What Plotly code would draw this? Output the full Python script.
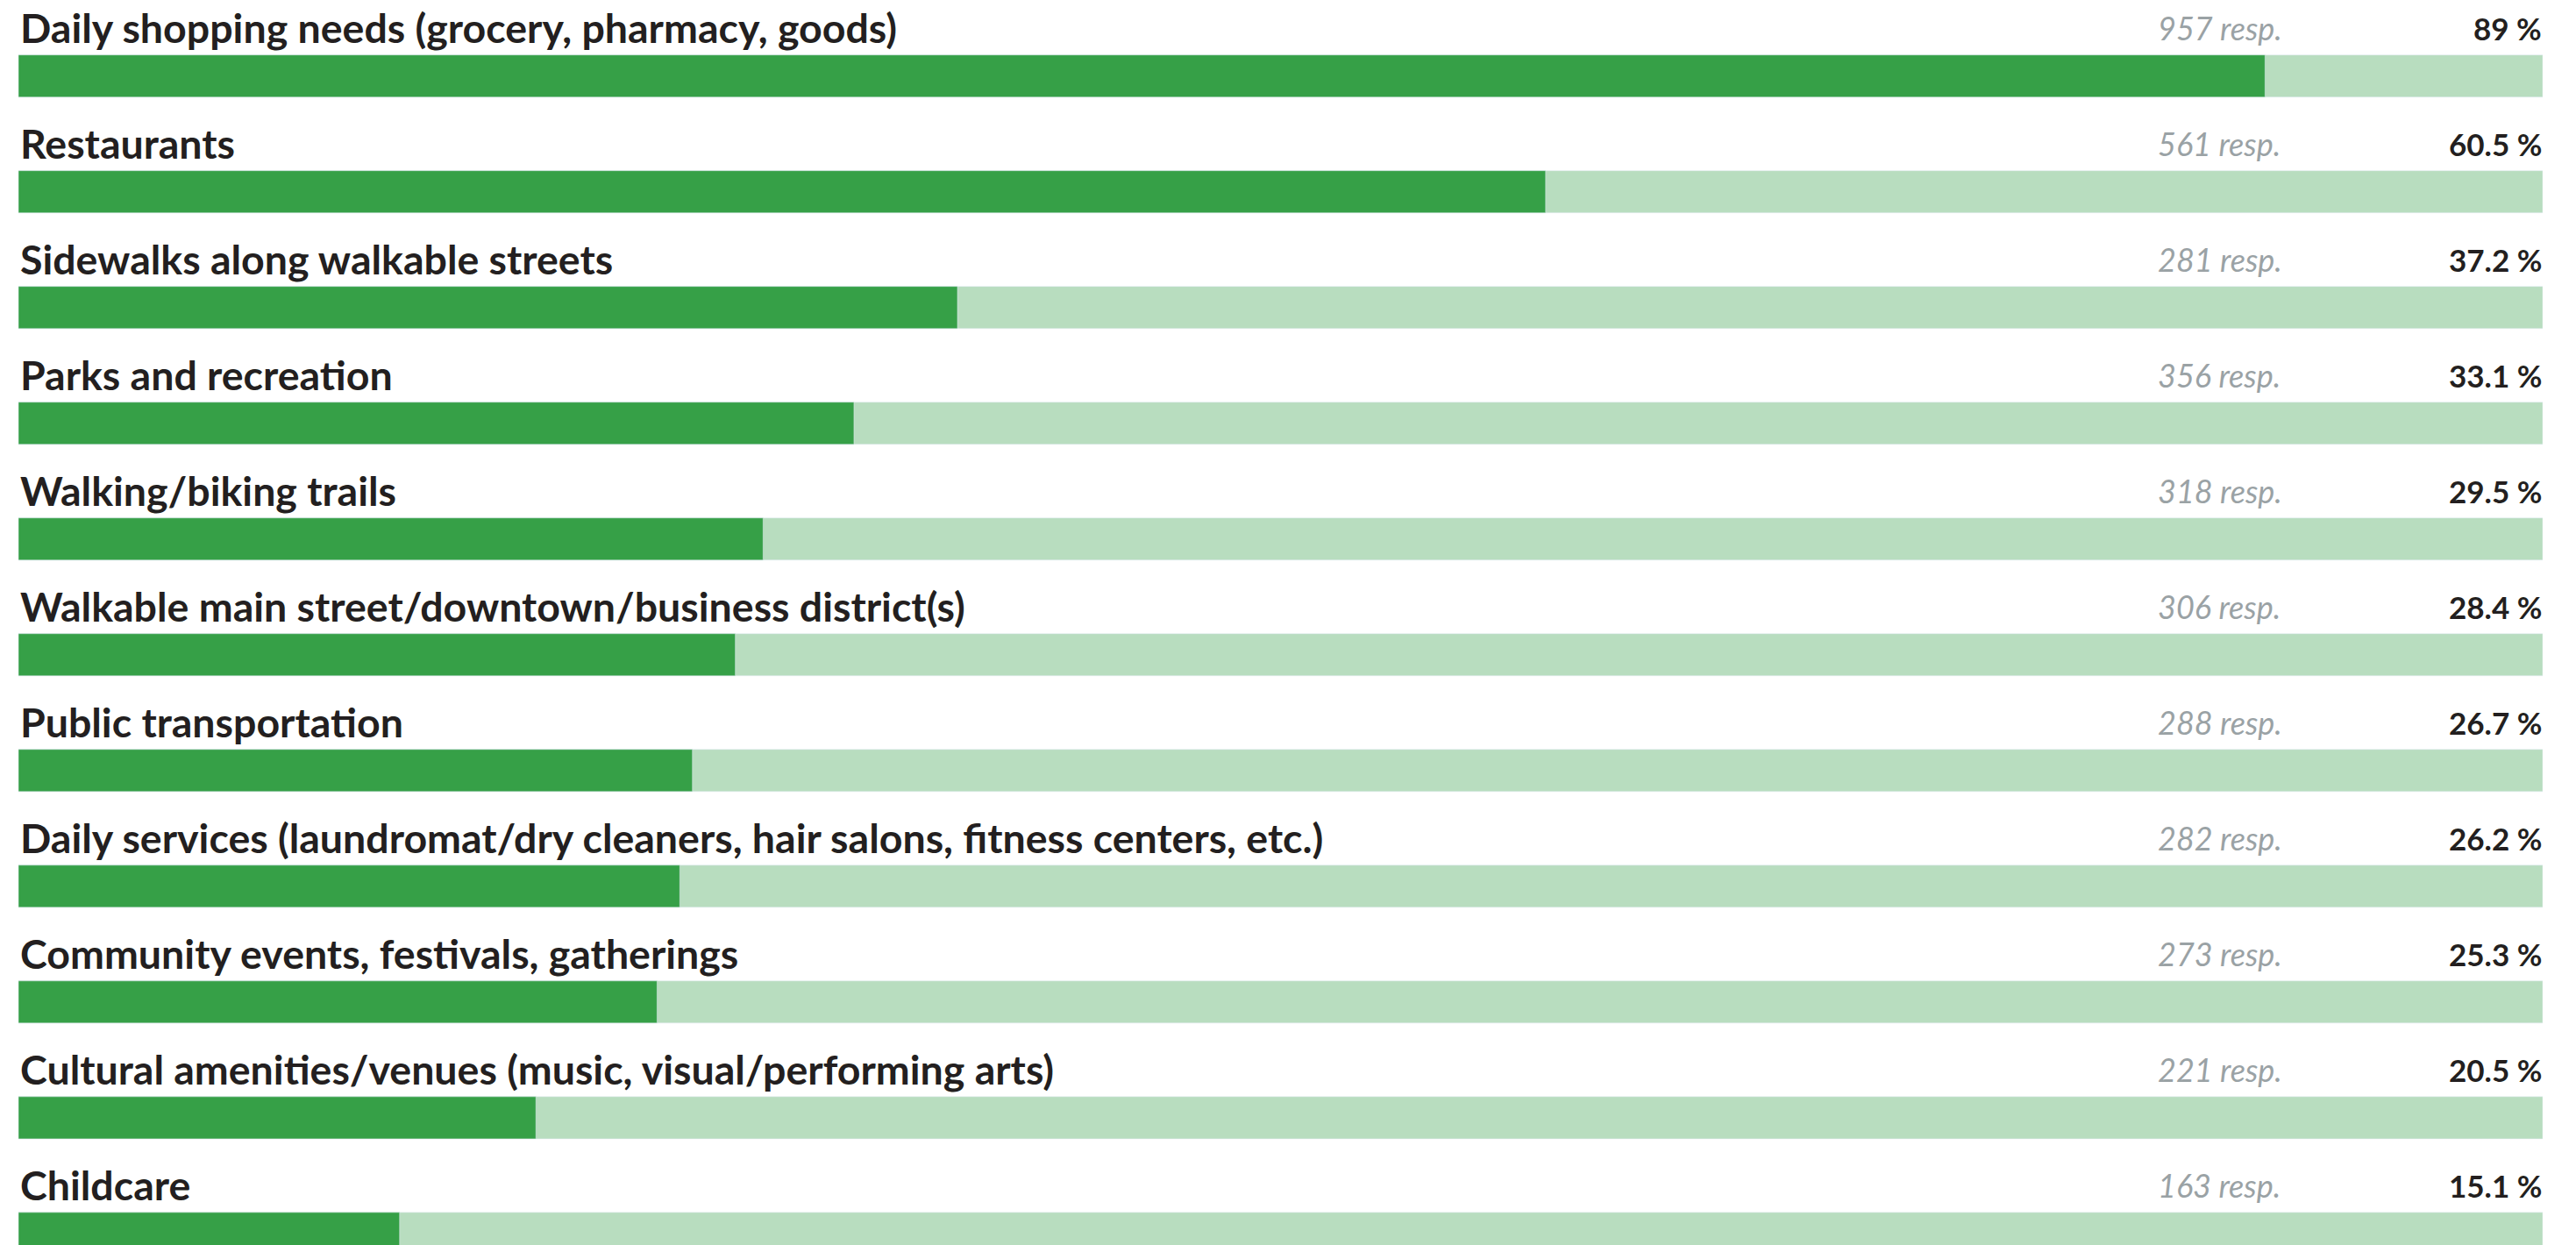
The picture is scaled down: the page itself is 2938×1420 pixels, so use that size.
import plotly.graph_objects as go

# datos
categorias = [
    "Daily shopping needs (grocery, pharmacy, goods)",
    "Restaurants",
    "Sidewalks along walkable streets",
    "Parks and recreation",
    "Walking/biking trails",
    "Walkable main street/downtown/business district(s)",
    "Public transportation",
    "Daily services (laundromat/dry cleaners, hair salons, fitness centers, etc.)",
    "Community events, festivals, gatherings",
    "Cultural amenities/venues (music, visual/performing arts)",
    "Childcare",
]
respuestas = [957, 561, 281, 356, 318, 306, 288, 282, 273, 221, 163]
porcentajes = [89, 60.5, 37.2, 33.1, 29.5, 28.4, 26.7, 26.2, 25.3, 20.5, 15.1]

VERDE = "#36a047"
VERDE_CLARO = "#b8ddbf"
TEXTO = "#231f20"
GRIS = "#9aa2a5"
FUENTE = "Lato"

filas = list(range(len(categorias)))

fig = go.Figure()

# barra de fondo (100 %)
fig.add_trace(go.Bar(
    x=[100] * len(filas),
    y=filas,
    orientation="h",
    width=0.364,
    marker_color=VERDE_CLARO,
    hoverinfo="skip",
))

# barra del porcentaje
fig.add_trace(go.Bar(
    x=porcentajes,
    y=filas,
    orientation="h",
    width=0.364,
    marker_color=VERDE,
    hovertext=categorias,
))

for i, (cat, r, p) in enumerate(zip(categorias, respuestas, porcentajes)):
    fig.add_annotation(
        x=0, y=i, xref="x", yref="y",
        text=cat, showarrow=False,
        xanchor="left", yanchor="middle", yshift=56, xshift=0,
        font=dict(family=FUENTE, size=46.5, color=TEXTO, weight=700),
    )
    fig.add_annotation(
        x=84.75, y=i, xref="x", yref="y",
        text=f"<i>{r} resp.</i>", showarrow=False,
        xanchor="left", yanchor="middle", yshift=55, xshift=-2,
        font=dict(family=FUENTE, size=36, color=GRIS),
    )
    fig.add_annotation(
        x=100, y=i, xref="x", yref="y",
        text=f"{p:g} %", showarrow=False,
        xanchor="right", yanchor="middle", yshift=55, xshift=1,
        font=dict(family=FUENTE, size=35, color=TEXTO, weight=700),
    )

fig.update_layout(
    width=2938,
    height=1420,
    margin=dict(l=13, r=46, t=0, b=0),
    barmode="overlay",
    showlegend=False,
    plot_bgcolor="white",
    paper_bgcolor="white",
    xaxis=dict(range=[0, 100], visible=False, fixedrange=True),
    yaxis=dict(range=[10.16, -0.596], visible=False, fixedrange=True),
)

fig.write_html("out.html")
